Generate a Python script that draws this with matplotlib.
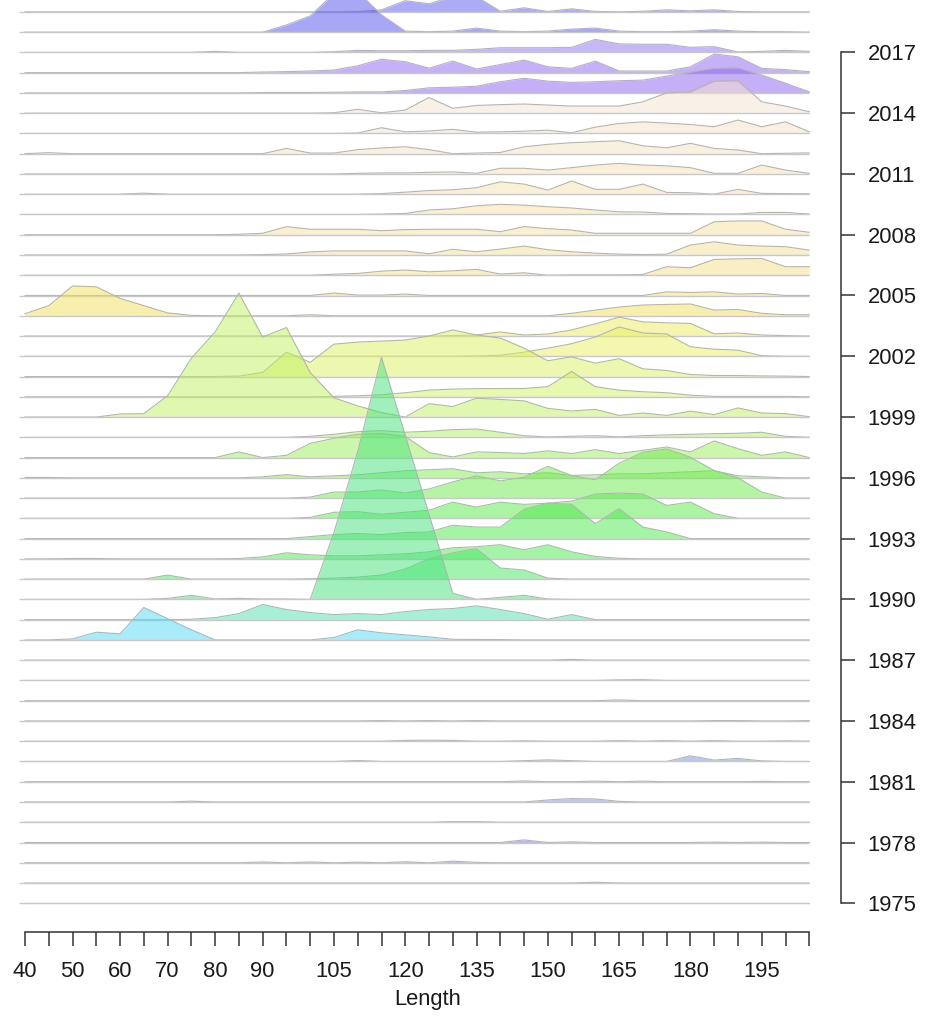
import matplotlib
matplotlib.use('Agg')
import matplotlib.pyplot as plt
import numpy as np

plt.rcParams['font.family'] = ['Liberation Sans', 'DejaVu Sans']

# length classes (bin centres) and survey years
lengths = np.arange(40, 206, 5)
years = np.arange(1975, 2020)
year_ticks = np.arange(1975, 2018, 3)
length_ticks = np.arange(40, 206, 5)
length_labels = [40, 50, 60, 70, 80, 90, 105, 120, 135, 150, 165, 180, 195]

# relative frequency per length class, one list per year (40 ... 205)
d1975 = [0]*34
d1976 = [0,0,0,0,0,0,0,0,0,0, 0,0,0,0,0,0,0,0,0,0, 0,0,0,0,0.04,0,0,0,0,0, 0,0,0,0]
d1977 = [0,0,0,0,0,0,0,0,0,0, 0.04,0,0.04,0,0.03,0,0.05,0,0.08,0.02, 0,0,0,0,0,0,0,0,0,0, 0,0,0,0]
d1978 = [0,0,0,0,0,0,0,0,0,0, 0,0,0,0,0,0,0,0,0,0, 0,0.13,0,0.03,0,0,0,0,0,0.02, 0,0.02,0,0]
d1979 = [0,0,0,0,0,0,0,0,0,0, 0,0,0,0,0,0,0,0,0.03,0.03, 0,0,0,0,0,0,0,0,0,0, 0,0,0,0]
d1980 = [0,0,0,0,0,0,0,0.04,0,0, 0,0,0,0,0,0,0,0,0,0, 0,0,0.1,0.17,0.15,0.03,0,0,0,0, 0,0,0,0]
d1981 = [0,0,0,0,0,0,0,0,0,0, 0,0,0,0,0,0,0,0,0,0, 0,0.04,0,0,0.03,0,0.03,0,0,0, 0,0.02,0,0]
d1982 = [0,0,0,0,0,0,0,0,0,0, 0,0,0,0,0.05,0,0,0,0,0, 0,0.04,0.08,0.04,0,0,0,0,0.28,0.07, 0.15,0.03,0,0]
d1983 = [0,0,0,0,0,0,0,0,0,0, 0,0,0,0,0,0,0.04,0.05,0.04,0, 0,0.02,0,0,0,0.03,0,0.03,0,0.03, 0,0,0.02,0]
d1984 = [0,0,0,0,0,0,0,0,0,0, 0,0,0,0,0,0.02,0,0.02,0,0.02, 0,0,0,0,0,0,0,0,0,0.02, 0.02,0,0,0.02]
d1985 = [0,0,0,0,0,0,0,0,0,0, 0,0,0,0,0,0,0,0,0,0, 0,0,0,0,0,0.04,0,0,0,0, 0,0,0,0]
d1986 = [0,0,0,0,0,0,0,0,0,0, 0,0,0,0,0,0,0,0,0,0, 0,0,0,0,0,0.03,0.04,0,0,0, 0,0,0,0]
d1987 = [0,0,0,0,0,0,0,0,0,0, 0,0,0,0,0,0,0,0,0,0, 0,0,0,0.04,0,0,0,0,0,0, 0,0,0,0]
d1988 = [0,0,0.05,0.38,0.3,1.6,1.05,0.5,0,0, 0,0,0,0.12,0.5,0.35,0.25,0.15,0.03,0.02, 0.02,0,0,0,0,0,0,0,0,0, 0,0,0,0]
d1989 = [0,0,0,0,0,0,0,0.02,0.1,0.3, 0.75,0.5,0.35,0.25,0.3,0.25,0.4,0.5,0.55,0.68, 0.5,0.3,0.02,0.25,0,0,0,0,0,0, 0,0,0,0]
d1990 = [0,0,0,0,0,0,0.05,0.2,0.02,0.05, 0.02,0.02,0,3.3,7.3,11.95,8.1,4.2,0.3,0, 0.1,0.2,0.02,0,0,0,0,0,0,0, 0,0,0,0]
d1991 = [0,0,0,0,0,0,0.2,0,0,0, 0,0,0.02,0.05,0.1,0.2,0.5,1.0,1.3,1.5, 0.55,0.45,0.05,0,0,0,0,0,0,0, 0,0,0,0]
d1992 = [0,0,0.02,0.02,0,0,0,0,0,0.02, 0.1,0.3,0.2,0.15,0.15,0.2,0.25,0.35,0.55,0.6, 0.7,0.45,0.7,0.35,0.12,0.03,0,0,0,0, 0,0,0,0]
d1993 = [0,0,0,0,0,0,0,0,0,0, 0,0,0.1,0.2,0.25,0.2,0.3,0.33,0.66,0.57, 0.57,1.45,1.75,1.69,0.74,1.48,0.57,0.33,0,0, 0,0,0,0]
d1994 = [0,0,0,0,0,0,0,0,0,0, 0,0,0.05,0.3,0.33,0.2,0.3,0.4,0.8,0.56, 0.8,0.69,0.75,0.85,1.2,1.25,1.2,0.64,0.8,0.23, 0,0,0,0]
d1995 = [0,0,0,0,0,0,0,0,0,0, 0,0,0.05,0.3,0.3,0.4,0.25,0.45,0.8,1.1, 0.85,1.03,1.57,1.11,0.9,1.72,2.26,2.43,2.02,1.36, 1.0,0.3,0,0]
d1996 = [0.02,0.02,0,0,0,0,0,0,0,0, 0.05,0.16,0.05,0.1,0.15,0.25,0.35,0.4,0.45,0.25, 0.3,0.2,0.25,0.12,0.15,0.2,0.2,0.25,0.3,0.35, 0.1,0.05,0,0]
d1997 = [0,0,0,0,0,0,0,0,0,0.28, 0,0.11,0.7,0.95,1.15,1.18,1.05,0.25,0.03,0.28, 0.25,0.2,0.33,0.2,0.39,0.2,0.36,0.52,0.28,0.82, 0.44,0.11,0.28,0]
d1998 = [0,0,0,0,0,0,0,0,0,0, 0,0,0.05,0.15,0.28,0.33,0.25,0.3,0.38,0.41, 0.25,0.08,0.02,0.05,0.08,0.02,0.08,0.12,0.15,0.18, 0.2,0.25,0.05,0]
d1999 = [0,0,0,0,0.15,0.17,1.05,2.9,4.2,6.12, 3.95,4.42,2.2,0.95,0.55,0.22,0,0.66,0.52,0.93, 0.87,0.8,0.43,0.3,0.38,0.08,0.2,0.08,0.29,0.12, 0.45,0.2,0.17,0.02]
d2000 = [0,0,0,0,0,0,0,0,0,0, 0,0,0,0.02,0.05,0.1,0.2,0.33,0.38,0.4, 0.41,0.41,0.5,1.25,0.5,0.33,0.25,0.2,0.08,0.02, 0.02,0.02,0.02,0]
d2001 = [0,0,0,0,0,0,0,0,0,0.02, 0.2,1.2,0.7,1.6,1.7,1.75,1.8,2.0,2.3,2.05, 1.9,1.4,0.78,0.97,0.66,0.88,0.38,0.3,0.1,0.05, 0.05,0.03,0.02,0]
d2002 = [0,0,0,0,0,0,0,0,0,0, 0,0,0,0,0,0,0,0,0,0.02, 0.05,0.2,0.4,0.62,0.95,1.45,1.15,1.1,0.47,0.35, 0.3,0.03,0,0]
d2003 = [0,0,0,0,0,0,0,0,0,0, 0,0,0,0,0,0,0,0,0.02,0.05, 0.2,0.05,0.1,0.3,0.6,0.93,0.7,0.65,0.62,0.11, 0.15,0.05,0.02,0]
d2004 = [0.1,0.5,1.47,1.43,0.86,0.5,0.14,0.02,0,0, 0,0,0.05,0,0,0,0,0,0,0, 0,0,0,0.12,0.28,0.43,0.53,0.56,0.58,0.28, 0.31,0.12,0.05,0.05]
d2005 = [0,0,0,0,0,0,0,0,0,0, 0,0,0,0.12,0.02,0.02,0.07,0,0,0, 0,0,0,0,0,0,0,0.18,0.15,0.18, 0.07,0.1,0,0]
d2006 = [0,0,0,0,0,0,0,0,0,0, 0,0,0,0.05,0.09,0.2,0.26,0.17,0.22,0.29, 0.06,0.12,0,0.02,0.02,0.02,0.04,0.42,0.37,0.78, 0.81,0.83,0.42,0.42]
d2007 = [0,0,0,0,0,0,0,0,0,0, 0.02,0.05,0.15,0.2,0.2,0.2,0.2,0.06,0.28,0.16, 0.29,0.44,0.26,0.16,0.09,0.04,0.02,0.04,0.49,0.65, 0.49,0.44,0.41,0.24]
d2008 = [0,0,0,0,0,0,0,0,0,0.02, 0.07,0.4,0.27,0.27,0.27,0.2,0.25,0.27,0.27,0.27, 0.15,0.4,0.3,0.23,0.07,0.07,0.07,0.07,0.07,0.64, 0.68,0.68,0.27,0.12]
d2009 = [0,0,0,0,0,0,0,0,0,0, 0,0,0,0,0,0.02,0.05,0.22,0.28,0.43, 0.5,0.46,0.38,0.32,0.22,0.13,0.12,0.05,0.04,0.02, 0.02,0.1,0.1,0.02]
d2010 = [0,0,0,0,0,0.05,0,0,0,0, 0,0,0,0,0,0.03,0.1,0.18,0.22,0.32, 0.61,0.5,0.2,0.65,0.24,0.24,0.5,0.09,0.07,0, 0.24,0.04,0.03,0.02]
d2011 = [0,0,0,0,0,0,0,0,0,0, 0,0,0,0,0.03,0.05,0.05,0.08,0.1,0.03, 0.28,0.28,0.19,0.31,0.44,0.52,0.44,0.4,0.31,0.03, 0.03,0.44,0.19,0.03]
d2012 = [0,0.05,0,0,0,0,0,0,0,0, 0,0.26,0.03,0.03,0.2,0.28,0.34,0.2,0,0.03, 0.06,0.34,0.46,0.54,0.59,0.64,0.39,0.29,0.51,0.26, 0.18,0,0.02,0.04]
d2013 = [0,0,0,0,0,0,0,0,0,0, 0,0,0,0,0.02,0.28,0.08,0.12,0.2,0.06, 0.08,0.11,0.16,0.03,0.31,0.49,0.57,0.51,0.44,0.33, 0.66,0.33,0.57,0.08]
d2014 = [0,0,0,0,0,0,0,0,0,0, 0,0,0,0.02,0.19,0.02,0.15,0.77,0.24,0.38, 0.42,0.45,0.4,0.35,0.35,0.35,0.56,1.0,1.05,1.58, 1.6,0.56,0.35,0.07]
d2015 = [0,0,0,0,0,0,0,0,0,0, 0.02,0.02,0.02,0.03,0.05,0.05,0.12,0.25,0.28,0.33, 0.55,0.72,0.58,0.52,0.55,0.6,0.63,0.83,1.03,1.22, 1.24,0.88,0.48,0.05]
d2016 = [0,0,0,0,0,0,0,0,0,0, 0.03,0.05,0.08,0.13,0.34,0.66,0.54,0.22,0.57,0.18, 0.4,0.62,0.29,0.21,0.57,0.08,0.08,0.08,0.29,0.92, 0.78,0.21,0.15,0.05]
d2017 = [0,0,0,0,0,0,0,0,0.05,0, 0,0,0,0.03,0.1,0.08,0.08,0.1,0.1,0.15, 0.23,0.23,0.23,0.25,0.64,0.42,0.4,0.4,0.25,0.28, 0.02,0.05,0.1,0.05]
d2018 = [0,0,0,0,0,0,0,0,0,0, 0,0.35,0.8,1.9,2.0,0.85,0.05,0.02,0.05,0.2, 0.05,0.02,0.05,0.15,0.2,0.05,0.02,0.02,0.05,0.12, 0.05,0.02,0.02,0]
d2019 = [0,0,0,0,0,0,0,0,0,0, 0,0,0,0,0.02,0.1,0.55,0.4,0.75,0.75, 0.03,0.2,0.02,0.15,0.02,0,0.03,0.1,0.05,0.1, 0.02,0,0,0]

ridges = [d1975, d1976, d1977, d1978, d1979, d1980, d1981, d1982, d1983, d1984,
          d1985, d1986, d1987, d1988, d1989, d1990, d1991, d1992, d1993, d1994,
          d1995, d1996, d1997, d1998, d1999, d2000, d2001, d2002, d2003, d2004,
          d2005, d2006, d2007, d2008, d2009, d2010, d2011, d2012, d2013, d2014,
          d2015, d2016, d2017, d2018, d2019]

fill_colors = ['#9a8fd0', '#9a8fd0', '#8c7fd8', '#7a6ae0', '#7c8ae0', '#7f93e0',
               '#7fa0e6', '#6f95e6', '#7fb0ec', '#7fbcf0', '#7fc8f0', '#7fd4f2',
               '#70d8f2', '#55d8f5', '#55e0b0', '#45e27a', '#45e860', '#4be850',
               '#4ce84c', '#58ea48', '#6cea4a', '#80ec50', '#98ee5a', '#aef060',
               '#c0f060', '#d0f262', '#dcf060', '#e8f060', '#eeec60', '#f2e060',
               '#f4de70', '#f6e08a', '#f6e098', '#f6e0a0', '#f6e0a8', '#f6e0b0',
               '#f6e0b8', '#f6e2c0', '#f5e3c6', '#f5e4d0', '#8c60f0', '#8c64f0',
               '#8e72f0', '#5050ec', '#5a5aee']

# page geometry (pixels)
W, H = 926, 1018
px_per_len = 4.753
row_px = 20.26
x40_px = 25.0
base1975_px = 903.3
fsize = 15.8

fig = plt.figure(figsize=(W / 100, H / 100), dpi=100)

ax = fig.add_axes([0, 0, 1, 1])
x_left = 40 - x40_px / px_per_len
ax.set_xlim(x_left, x_left + W / px_per_len)
ax.set_ylim(1975 - (H - base1975_px) / row_px, 1975 + base1975_px / row_px)
ax.axis('off')

# draw from the top row down so lower ridges sit over the upper ones
for yr, vals, col in reversed(list(zip(years, ridges, fill_colors))):
    v = np.array(vals, dtype=float)
    ax.fill_between(lengths, yr, yr + v, color=col, alpha=0.5, lw=0, zorder=2)
    ax.plot(lengths, yr + v, color='#b4b4b4', lw=0.8, zorder=2)
    ax.hlines(yr, 38.7, 205, color='#c8c8c8', lw=1.0, zorder=2)

# bottom axis (Length)
axx = fig.add_axes([x40_px / W, 1 - 932.3 / H, (809.3 - x40_px) / W, 1e-4])
axx.set_xlim(40, 205)
axx.patch.set_visible(False)
for s in ['top', 'left', 'right']:
    axx.spines[s].set_visible(False)
axx.spines['bottom'].set_color('#333333')
axx.spines['bottom'].set_linewidth(1.1)
axx.set_yticks([])
axx.set_xticks(length_ticks)
axx.set_xticklabels([str(t) if t in length_labels else '' for t in length_ticks])
axx.tick_params(axis='x', direction='out', length=10.4, width=1.1, color='#333333',
                labelsize=fsize, labelcolor='#1a1a1a', pad=10.5)
fig.text(428 / W, 1 - 999 / H, 'Length', ha='center', va='center', fontsize=fsize,
         color='#1a1a1a')

# right axis (year)
axy = fig.add_axes([840.7 / W - 1e-4, 1 - base1975_px / H, 1e-4, (base1975_px - 52.3) / H])
axy.set_ylim(1975, 2017)
axy.patch.set_visible(False)
for s in ['top', 'left', 'bottom']:
    axy.spines[s].set_visible(False)
axy.spines['right'].set_color('#333333')
axy.spines['right'].set_linewidth(1.1)
axy.set_xticks([])
axy.yaxis.tick_right()
axy.set_yticks(year_ticks)
axy.tick_params(axis='y', direction='out', length=9.8, width=1.1, color='#333333',
                labelsize=fsize, labelcolor='#1a1a1a', pad=9.5)

fig.savefig('out.png', dpi=100)
